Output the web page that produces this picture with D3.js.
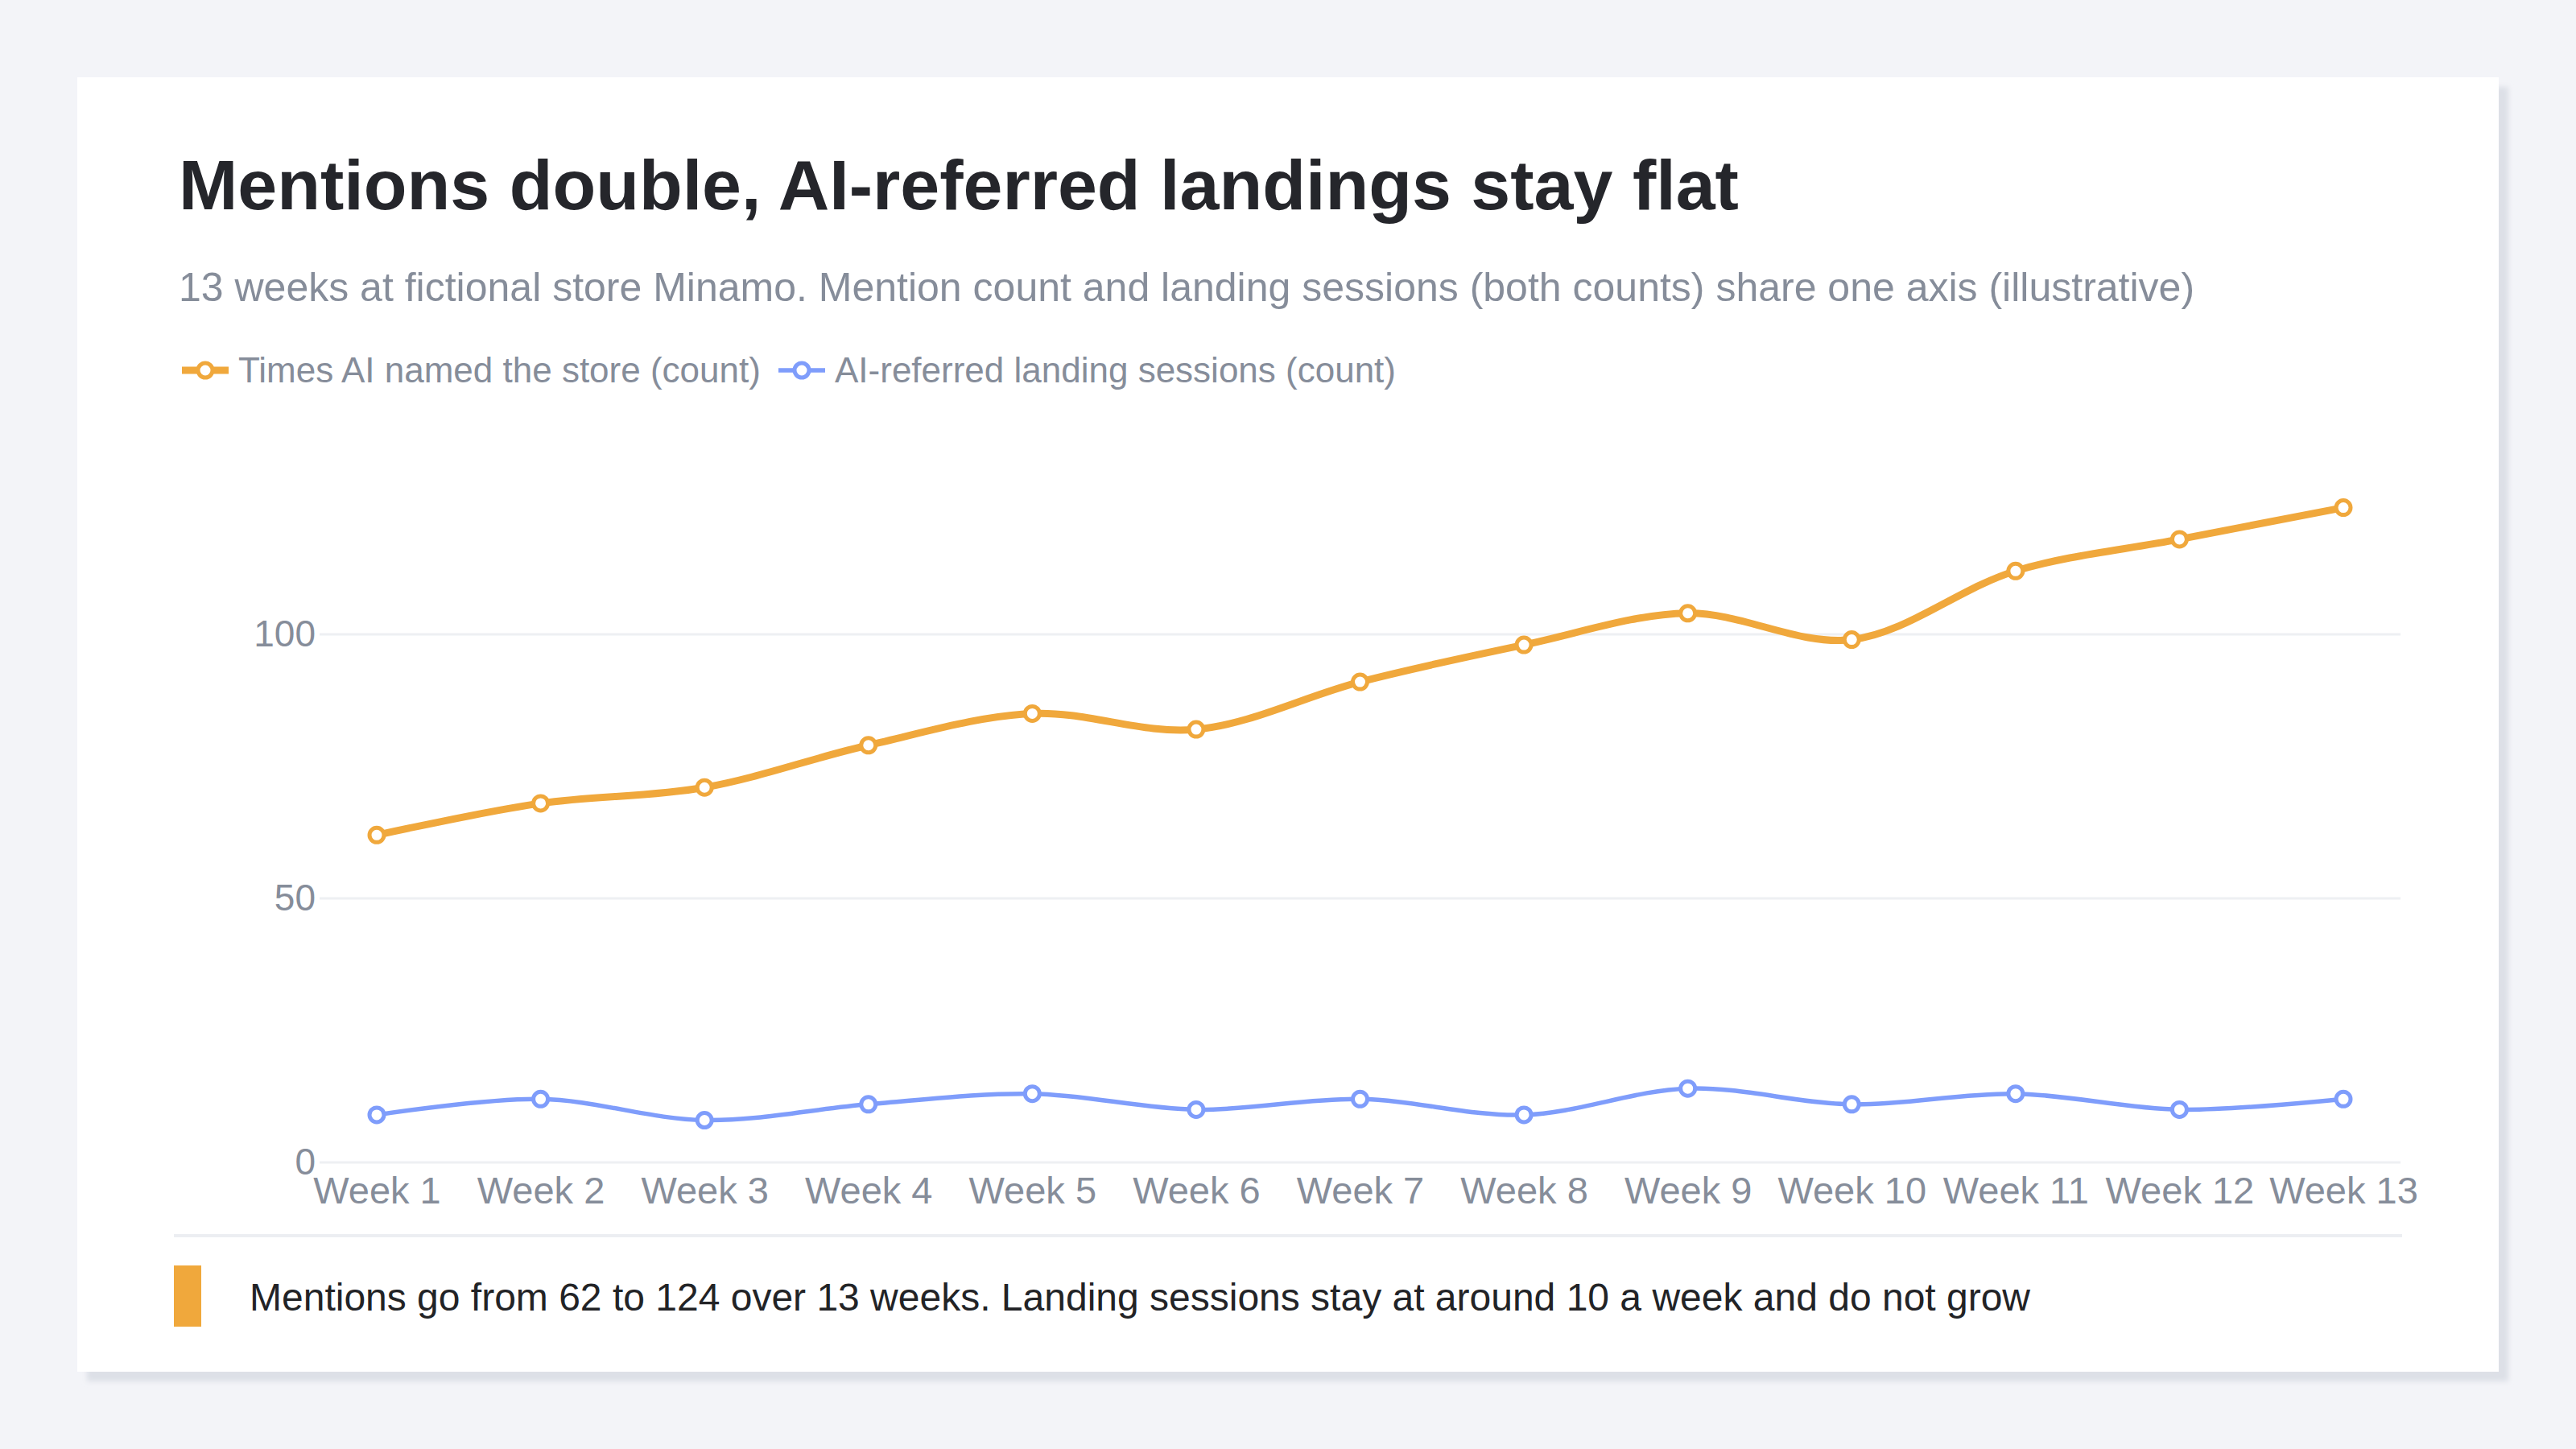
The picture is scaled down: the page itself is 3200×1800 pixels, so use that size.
<!DOCTYPE html>
<html>
<head>
<meta charset="utf-8">
<script src="https://cdn.jsdelivr.net/npm/d3@7"></script>
<style>
  html, body { margin: 0; padding: 0; background: #f3f4f8; }
  svg { display: block; font-family: "Helvetica Neue", Helvetica, Arial, "Liberation Sans", sans-serif; }
</style>
</head>
<body>
<div id="container"></div>
<script>
/* DATA */
const weeks = ["Week 1", "Week 2", "Week 3", "Week 4", "Week 5", "Week 6", "Week 7",
  "Week 8", "Week 9", "Week 10", "Week 11", "Week 12", "Week 13"];
const mentions = [62, 68, 71, 79, 85, 82, 91, 98, 104, 99, 112, 118, 124];
const sessions = [9, 12, 8, 11, 13, 10, 12, 9, 14, 11, 13, 10, 12];
const yTicks = [0, 50, 100];
const seriesNames = ["Times AI named the store (count)", "AI-referred landing sessions (count)"];

const title = "Mentions double, AI-referred landings stay flat";
const subtitle = "13 weeks at fictional store Minamo. Mention count and landing sessions (both counts) share one axis (illustrative)";
const note = "Mentions go from 62 to 124 over 13 weeks. Landing sessions stay at around 10 a week and do not grow";

/* CONSTANTS */
const width = 3200, height = 1800;
const card = { x: 96, y: 96, w: 3008, h: 1608 };
const plot = { left: 397, right: 2982, top: 560, bottom: 1444 };
const orange = "#f0a83c", blue = "#7f9dfb", gray = "#868d9a";

const svg = d3.select("#container")
  .append("svg")
  .attr("width", width)
  .attr("height", height)

// card shadow + card
const defs = svg.append("defs")
defs.append("filter").attr("id", "blur")
  .append("feGaussianBlur").attr("stdDeviation", 3)

svg.append("rect")
  .attr("x", card.x + 12).attr("y", card.y + 12)
  .attr("width", card.w).attr("height", card.h)
  .attr("fill", "#dde0e7")
  .attr("filter", "url(#blur)")

svg.append("rect")
  .attr("x", card.x).attr("y", card.y)
  .attr("width", card.w).attr("height", card.h)
  .attr("fill", "#ffffff")

// TITLES
svg.append("text")
  .attr("x", 222).attr("y", 260)
  .attr("font-size", 88).attr("font-weight", 700)
  .attr("fill", "#25262b")
  .text(title)

svg.append("text")
  .attr("x", 222).attr("y", 374)
  .attr("font-size", 50)
  .attr("fill", gray)
  .text(subtitle)

// SCALES
const xScale = d3.scalePoint()
  .domain(weeks)
  .range([468, 2911])

const yScale = d3.scaleLinear()
  .domain([0, 50])
  .range([plot.bottom, 1116])

// GRIDLINES
svg.append("g")
  .selectAll("line")
  .data(yTicks)
  .join("line")
  .attr("x1", plot.left).attr("x2", plot.right)
  .attr("y1", d => yScale(d)).attr("y2", d => yScale(d))
  .attr("stroke", "#eef0f3")
  .attr("stroke-width", 3)

// AXES
const yAxis = d3.axisLeft(yScale).tickValues(yTicks).tickSize(0).tickPadding(0)
const yAxisGroup = svg.append("g")
  .attr("transform", `translate(${plot.left - 5},0)`)
  .call(yAxis)
yAxisGroup.select(".domain").remove()
yAxisGroup.selectAll("text")
  .attr("font-size", 46).attr("fill", gray)
  .attr("font-family", null)

const xAxis = d3.axisBottom(xScale).tickSize(0).tickPadding(0)
const xAxisGroup = svg.append("g")
  .attr("transform", `translate(0,${plot.bottom + 18})`)
  .call(xAxis)
xAxisGroup.select(".domain").remove()
xAxisGroup.selectAll("text")
  .attr("font-size", 47).attr("fill", gray)
  .attr("font-family", null)

// LINES
const series = [
  { name: seriesNames[0], values: mentions, color: orange, lw: 9 },
  { name: seriesNames[1], values: sessions, color: blue, lw: 5.5 }
]

const line = d3.line()
  .x((d, i) => xScale(weeks[i]))
  .y(d => yScale(d))
  .curve(d3.curveCatmullRom.alpha(0.5))

series.forEach(s => {
  svg.append("path")
    .datum(s.values)
    .attr("d", line)
    .attr("fill", "none")
    .attr("stroke", s.color)
    .attr("stroke-width", s.lw)
    .attr("stroke-linejoin", "round")

  svg.append("g")
    .selectAll("circle")
    .data(s.values)
    .join("circle")
    .attr("cx", (d, i) => xScale(weeks[i]))
    .attr("cy", d => yScale(d))
    .attr("r", 9)
    .attr("fill", "#fff")
    .attr("stroke", s.color)
    .attr("stroke-width", 5)
})

// LEGEND
const legendX = [226, 967]
series.forEach((s, i) => {
  const g = svg.append("g").attr("transform", `translate(${legendX[i]},460)`)
  g.append("line")
    .attr("x1", 0).attr("x2", 58)
    .attr("stroke", s.color).attr("stroke-width", s.lw)
  g.append("circle")
    .attr("cx", 29).attr("r", 9)
    .attr("fill", "#fff").attr("stroke", s.color).attr("stroke-width", 5)
  g.append("text")
    .attr("x", 70).attr("y", 0)
    .attr("dy", "0.35em")
    .attr("font-size", 44).attr("fill", gray)
    .text(s.name)
})

// FOOTER
svg.append("line")
  .attr("x1", 216).attr("x2", 2984)
  .attr("y1", 1535).attr("y2", 1535)
  .attr("stroke", "#eceef2").attr("stroke-width", 4)

svg.append("rect")
  .attr("x", 216).attr("y", 1572)
  .attr("width", 34).attr("height", 76)
  .attr("fill", orange)

svg.append("text")
  .attr("x", 310).attr("y", 1628)
  .attr("font-size", 48)
  .attr("fill", "#222326")
  .text(note)
</script>
</body>
</html>
